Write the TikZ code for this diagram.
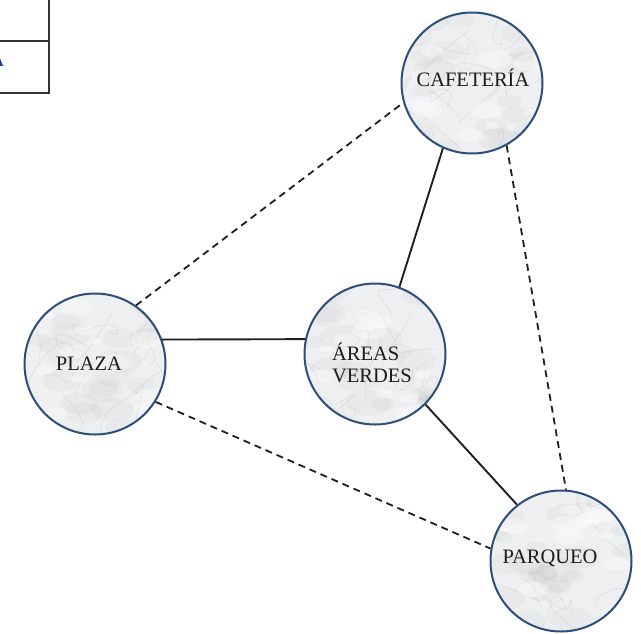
\documentclass[tikz,border=0pt]{standalone}
\usepackage{fontspec}
\setmainfont{Liberation Serif}
\usetikzlibrary{calc}
\definecolor{circblue}{RGB}{44,78,122}
\definecolor{marblebase}{RGB}{238,239,241}
\definecolor{txt}{RGB}{30,28,26}
\definecolor{tblue}{RGB}{20,60,150}
\begin{document}
\begin{tikzpicture}[x=1pt,y=-1pt,
  marble/.style={circle, minimum size=141pt, inner sep=0pt, draw=circblue, line width=2pt, fill=marblebase,
    path picture={
      \begin{scope}[shift={(path picture bounding box.center)}]
        \foreach \k in {1,...,22}{
          \pgfmathsetmacro{\ax}{65*rand}\pgfmathsetmacro{\ay}{65*rand}
          \pgfmathsetmacro{\rr}{10+14*rnd}
          \fill[gray, opacity=0.05] (\ax,\ay) ellipse ({\rr} and {0.55*\rr});
        }
        \foreach \k in {1,...,18}{
          \pgfmathsetmacro{\ax}{70*rand}\pgfmathsetmacro{\ay}{70*rand}
          \pgfmathsetmacro{\bx}{\ax+30*rand}\pgfmathsetmacro{\by}{\ay+30*rand}
          \pgfmathsetmacro{\cx}{\ax+40*rand}\pgfmathsetmacro{\cy}{\ay+40*rand}
          \pgfmathsetmacro{\dx}{\ax+50*rand}\pgfmathsetmacro{\dy}{\ay+50*rand}
          \draw[gray!70, opacity=0.20, line width=0.7pt] (\ax,\ay) .. controls (\bx,\by) and (\cx,\cy) .. (\dx,\dy);
        }
        \foreach \k in {1,...,12}{
          \pgfmathsetmacro{\ax}{60*rand}\pgfmathsetmacro{\ay}{60*rand}
          \pgfmathsetmacro{\rr}{6+12*rnd}
          \fill[white, opacity=0.35] (\ax,\ay) ellipse ({\rr} and {0.5*\rr});
        }
      \end{scope}
    }},
  lbl/.style={font=\fontsize{20.5}{21.5}\selectfont, text=txt, inner sep=0pt, align=left},
  solidlink/.style={line width=1.9pt, draw=black!88},
  dashlink/.style={line width=1.8pt, draw=black!88, dash pattern=on 7pt off 5pt},
  tbl/.style={line width=1.4pt, draw=black!80}
]
\pgfmathsetseed{4211}
\useasboundingbox (0,0) rectangle (641,633);

% partial table at the top left
\coordinate (t1) at (49,-2);
\coordinate (t2) at (49,93);
\coordinate (t3) at (-2,93);
\coordinate (t4) at (-2,41);
\coordinate (t5) at (49,41);
\draw[tbl] (t1) -- (t2) -- (t3);
\draw[tbl] (t4) -- (t5);
\node[anchor=east, inner sep=0pt, text=tblue, font=\fontsize{15}{15}\selectfont\bfseries] (tA) at (4,62) {A};

% circles
\node[marble] (cafe) at (472,83) {};
\node[marble] (plaza) at (95,364) {};
\node[marble] (areas) at (375,354) {};
\node[marble] (parq) at (561,561) {};

% labels
\node[lbl] (cafeT) at (473,78) {CAFETERÍA};
\node[lbl] (plazaT) at (89,364) {PLAZA};
\node[lbl] (areasT) at (372,363) {ÁREAS\\VERDES};
\node[lbl] (parqT) at (550,558) {PARQUEO};

% connectors
\draw[solidlink] (cafe.-114) -- (areas.70);
\draw[solidlink] (plaza.20) -- (areas.168);
\draw[solidlink] (areas.-45) -- (parq.128);
\draw[dashlink] (plaza.55) -- (cafe.196);
\draw[dashlink] (cafe.-61) -- (parq.86);
\draw[dashlink] (plaza.-32) -- (parq.170);
\end{tikzpicture}
\end{document}
